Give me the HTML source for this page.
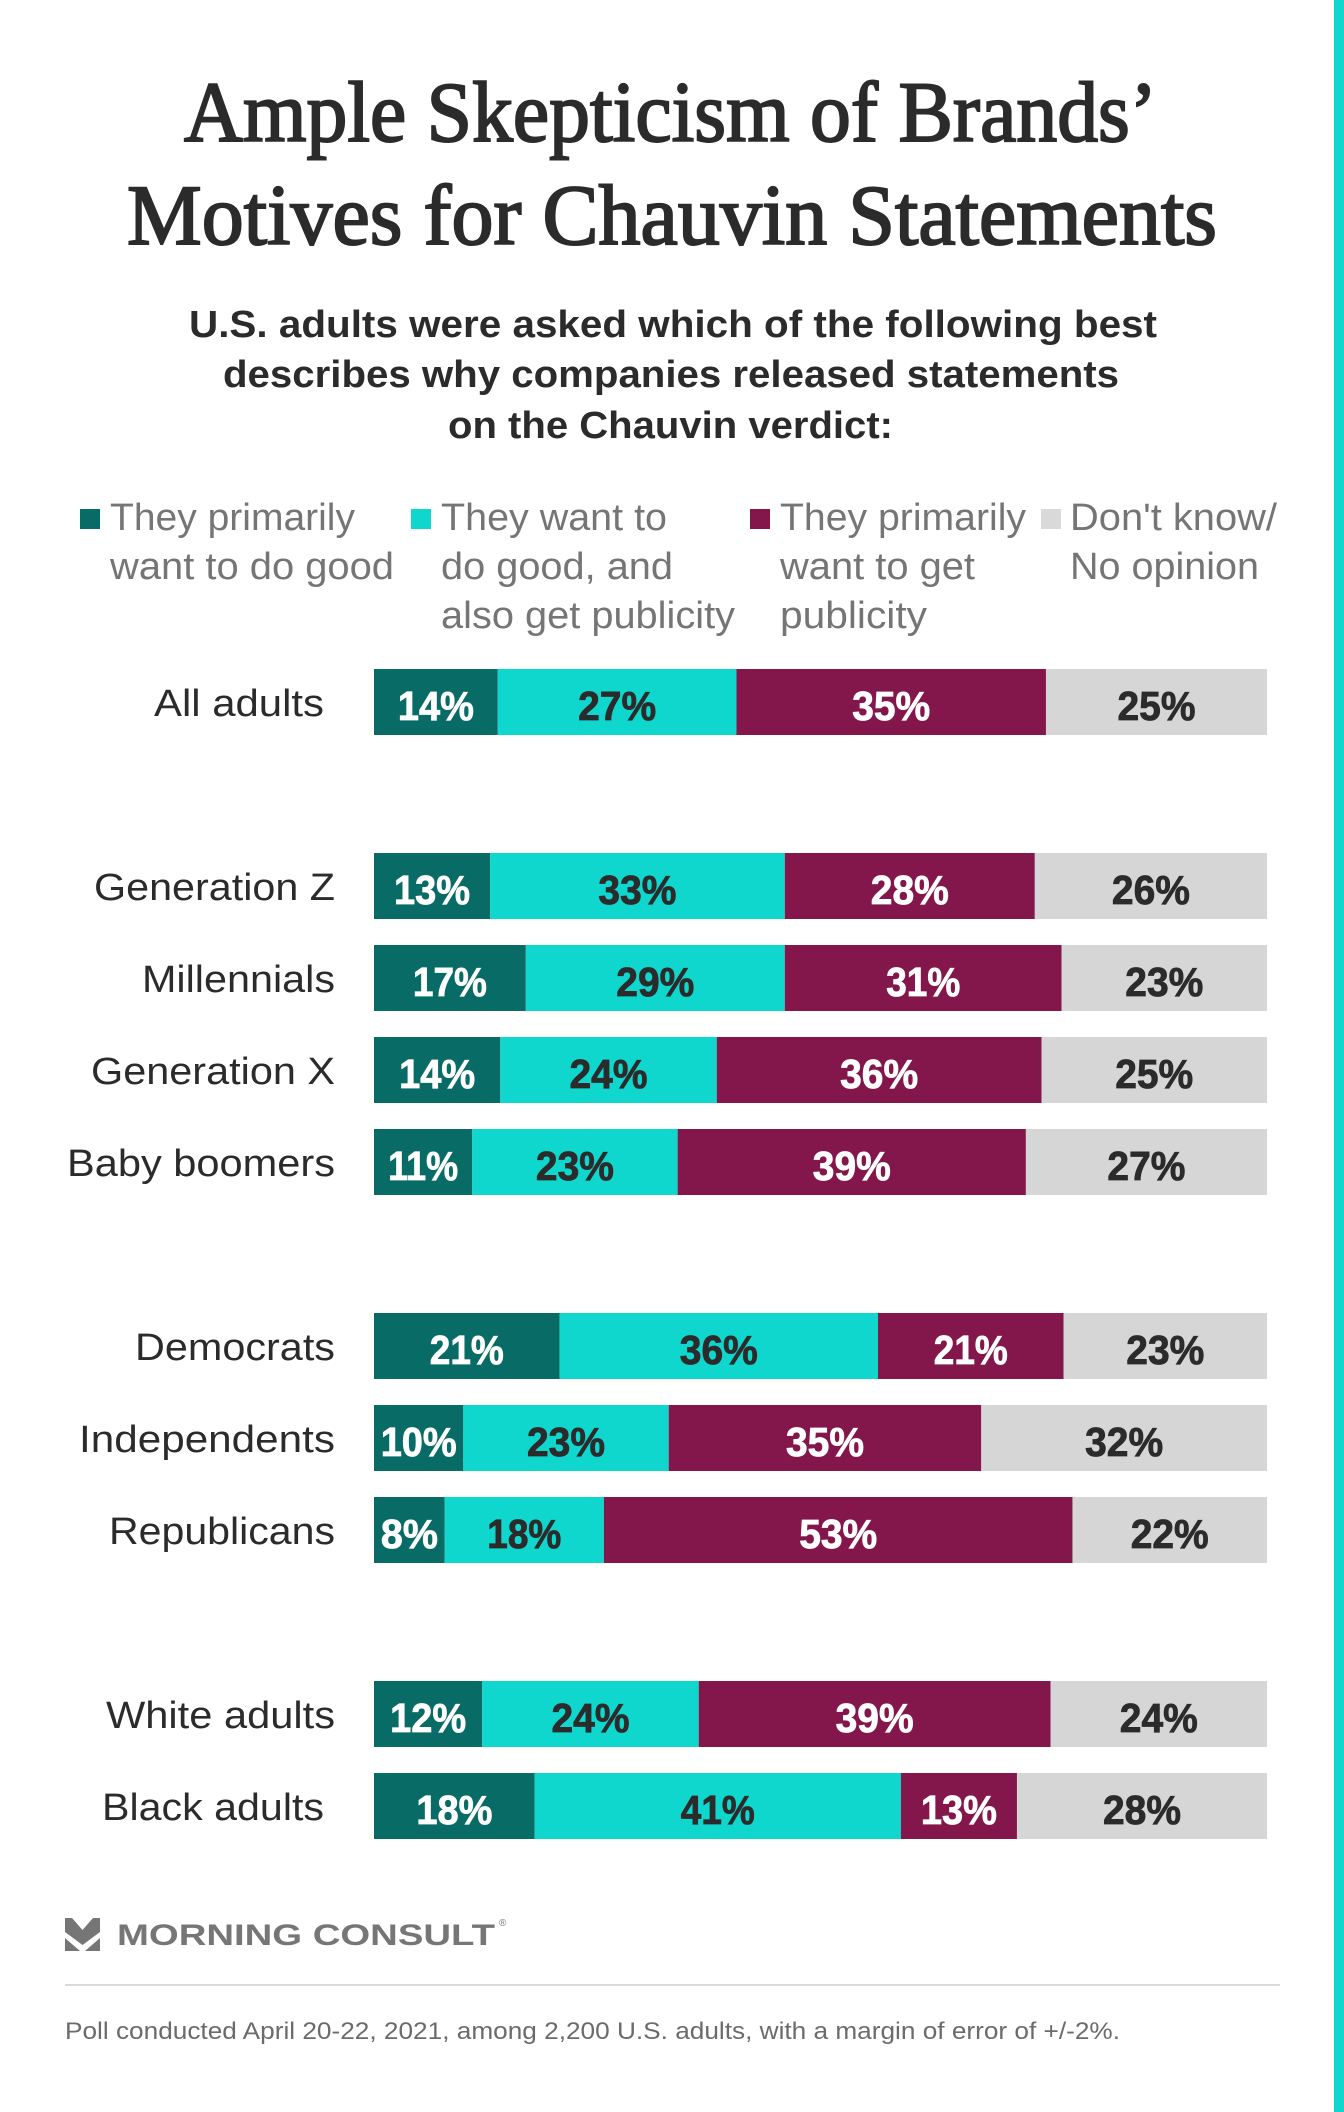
<!DOCTYPE html>
<html>
<head>
<meta charset="utf-8">
<style>
  html, body { margin:0; padding:0; background:#ffffff; }
  body { width:1344px; height:2112px; overflow:hidden; }
  svg { display:block; }
  .ttl { font-family:"Liberation Serif", serif; font-size:86px; fill:#2b2b2b; stroke:#2b2b2b; stroke-width:2px; }
  .sub { font-family:"Liberation Sans", sans-serif; font-size:38px; font-weight:bold; fill:#2b2b2b; }
  .leg { font-family:"Liberation Sans", sans-serif; font-size:38px; fill:#757575; }
  .row { font-family:"Liberation Sans", sans-serif; font-size:38px; fill:#2b2b2b; }
  .pw { font-family:"Liberation Sans", sans-serif; font-size:41px; font-weight:bold; fill:#ffffff; stroke:#ffffff; stroke-width:0.8px; }
  .pd { font-family:"Liberation Sans", sans-serif; font-size:41px; font-weight:bold; fill:#2b2b2b; stroke:#2b2b2b; stroke-width:0.8px; }
  .foot { font-family:"Liberation Sans", sans-serif; font-size:24px; fill:#6b6b6b; }
  .logo { font-family:"Liberation Sans", sans-serif; font-size:30px; font-weight:bold; fill:#767676; }
</style>
</head>
<body>
<svg width="1344" height="2112" viewBox="0 0 1344 2112" xmlns="http://www.w3.org/2000/svg">
  <rect x="0" y="0" width="1344" height="2112" fill="#ffffff"/>
  <rect x="1334" y="0" width="10" height="2112" fill="#10d7cd"/>

  <!-- Title -->
  <text class="ttl" x="184" y="141" textLength="973" lengthAdjust="spacingAndGlyphs">Ample Skepticism of Brands’</text>
  <text class="ttl" x="127" y="244" textLength="1090" lengthAdjust="spacingAndGlyphs">Motives for Chauvin Statements</text>

  <!-- Subtitle -->
  <text class="sub" x="189" y="337" textLength="968" lengthAdjust="spacingAndGlyphs">U.S. adults were asked which of the following best</text>
  <text class="sub" x="223" y="387" textLength="896" lengthAdjust="spacingAndGlyphs">describes why companies released statements</text>
  <text class="sub" x="448" y="438" textLength="445" lengthAdjust="spacingAndGlyphs">on the Chauvin verdict:</text>

  <!-- Legend -->
  <rect x="80" y="509" width="20" height="20" fill="#086b66"/>
  <text class="leg" x="110" y="530" textLength="245" lengthAdjust="spacingAndGlyphs">They primarily</text>
  <text class="leg" x="110" y="579" textLength="284" lengthAdjust="spacingAndGlyphs">want to do good</text>

  <rect x="411" y="509" width="20" height="20" fill="#10d7cd"/>
  <text class="leg" x="441" y="530" textLength="226" lengthAdjust="spacingAndGlyphs">They want to</text>
  <text class="leg" x="441" y="579" textLength="232" lengthAdjust="spacingAndGlyphs">do good, and</text>
  <text class="leg" x="441" y="628" textLength="294" lengthAdjust="spacingAndGlyphs">also get publicity</text>

  <rect x="750" y="509" width="20" height="20" fill="#83174b"/>
  <text class="leg" x="780" y="530" textLength="246" lengthAdjust="spacingAndGlyphs">They primarily</text>
  <text class="leg" x="780" y="579" textLength="195" lengthAdjust="spacingAndGlyphs">want to get</text>
  <text class="leg" x="780" y="628" textLength="147" lengthAdjust="spacingAndGlyphs">publicity</text>

  <rect x="1041" y="509" width="20" height="20" fill="#d9d9d9"/>
  <text class="leg" x="1070" y="530" textLength="207" lengthAdjust="spacingAndGlyphs">Don't know/</text>
  <text class="leg" x="1070" y="579" textLength="189" lengthAdjust="spacingAndGlyphs">No opinion</text>

  <!-- Row: All adults (top 669) -->
  <text class="row" x="324" y="716" text-anchor="end" textLength="170" lengthAdjust="spacingAndGlyphs">All adults</text>
  <rect x="374" y="669" width="123.78" height="66" fill="#086b66"/>
  <rect x="497.78" y="669" width="238.72" height="66" fill="#10d7cd"/>
  <rect x="736.5" y="669" width="309.46" height="66" fill="#83174b"/>
  <rect x="1045.96" y="669" width="221.04" height="66" fill="#d6d6d6"/>
  <text class="pw" x="435.9" y="720" text-anchor="middle" textLength="76" lengthAdjust="spacingAndGlyphs">14%</text>
  <text class="pd" x="617.1" y="720" text-anchor="middle" textLength="78" lengthAdjust="spacingAndGlyphs">27%</text>
  <text class="pw" x="891.2" y="720" text-anchor="middle" textLength="78" lengthAdjust="spacingAndGlyphs">35%</text>
  <text class="pd" x="1156.5" y="720" text-anchor="middle" textLength="78" lengthAdjust="spacingAndGlyphs">25%</text>

  <!-- Generation Z (853) -->
  <text class="row" x="335" y="900" text-anchor="end" textLength="241" lengthAdjust="spacingAndGlyphs">Generation Z</text>
  <rect x="374" y="853" width="116.09" height="66" fill="#086b66"/>
  <rect x="490.09" y="853" width="294.69" height="66" fill="#10d7cd"/>
  <rect x="784.78" y="853" width="250.04" height="66" fill="#83174b"/>
  <rect x="1034.82" y="853" width="232.18" height="66" fill="#d6d6d6"/>
  <text class="pw" x="432" y="904" text-anchor="middle" textLength="76" lengthAdjust="spacingAndGlyphs">13%</text>
  <text class="pd" x="637.4" y="904" text-anchor="middle" textLength="78" lengthAdjust="spacingAndGlyphs">33%</text>
  <text class="pw" x="909.8" y="904" text-anchor="middle" textLength="78" lengthAdjust="spacingAndGlyphs">28%</text>
  <text class="pd" x="1150.9" y="904" text-anchor="middle" textLength="78" lengthAdjust="spacingAndGlyphs">26%</text>

  <!-- Millennials (945) -->
  <text class="row" x="335" y="992" text-anchor="end" textLength="193" lengthAdjust="spacingAndGlyphs">Millennials</text>
  <rect x="374" y="945" width="151.81" height="66" fill="#086b66"/>
  <rect x="525.81" y="945" width="258.97" height="66" fill="#10d7cd"/>
  <rect x="784.78" y="945" width="276.83" height="66" fill="#83174b"/>
  <rect x="1061.61" y="945" width="205.39" height="66" fill="#d6d6d6"/>
  <text class="pw" x="449.9" y="996" text-anchor="middle" textLength="74" lengthAdjust="spacingAndGlyphs">17%</text>
  <text class="pd" x="655.3" y="996" text-anchor="middle" textLength="78" lengthAdjust="spacingAndGlyphs">29%</text>
  <text class="pw" x="923.2" y="996" text-anchor="middle" textLength="74" lengthAdjust="spacingAndGlyphs">31%</text>
  <text class="pd" x="1164.3" y="996" text-anchor="middle" textLength="78" lengthAdjust="spacingAndGlyphs">23%</text>

  <!-- Generation X (1037) -->
  <text class="row" x="335" y="1084" text-anchor="end" textLength="244" lengthAdjust="spacingAndGlyphs">Generation X</text>
  <rect x="374" y="1037" width="126.28" height="66" fill="#086b66"/>
  <rect x="500.28" y="1037" width="216.48" height="66" fill="#10d7cd"/>
  <rect x="716.76" y="1037" width="324.73" height="66" fill="#83174b"/>
  <rect x="1041.49" y="1037" width="225.51" height="66" fill="#d6d6d6"/>
  <text class="pw" x="437.1" y="1088" text-anchor="middle" textLength="76" lengthAdjust="spacingAndGlyphs">14%</text>
  <text class="pd" x="608.5" y="1088" text-anchor="middle" textLength="78" lengthAdjust="spacingAndGlyphs">24%</text>
  <text class="pw" x="879.1" y="1088" text-anchor="middle" textLength="78" lengthAdjust="spacingAndGlyphs">36%</text>
  <text class="pd" x="1154.2" y="1088" text-anchor="middle" textLength="78" lengthAdjust="spacingAndGlyphs">25%</text>

  <!-- Baby boomers (1129) -->
  <text class="row" x="335" y="1176" text-anchor="end" textLength="268" lengthAdjust="spacingAndGlyphs">Baby boomers</text>
  <rect x="374" y="1129" width="98.23" height="66" fill="#086b66"/>
  <rect x="472.23" y="1129" width="205.39" height="66" fill="#10d7cd"/>
  <rect x="677.62" y="1129" width="348.27" height="66" fill="#83174b"/>
  <rect x="1025.89" y="1129" width="241.11" height="66" fill="#d6d6d6"/>
  <text class="pw" x="423.1" y="1180" text-anchor="middle" textLength="70" lengthAdjust="spacingAndGlyphs">11%</text>
  <text class="pd" x="574.9" y="1180" text-anchor="middle" textLength="78" lengthAdjust="spacingAndGlyphs">23%</text>
  <text class="pw" x="851.8" y="1180" text-anchor="middle" textLength="78" lengthAdjust="spacingAndGlyphs">39%</text>
  <text class="pd" x="1146.4" y="1180" text-anchor="middle" textLength="78" lengthAdjust="spacingAndGlyphs">27%</text>

  <!-- Democrats (1313) -->
  <text class="row" x="335" y="1360" text-anchor="end" textLength="200" lengthAdjust="spacingAndGlyphs">Democrats</text>
  <rect x="374" y="1313" width="185.67" height="66" fill="#086b66"/>
  <rect x="559.67" y="1313" width="318.3" height="66" fill="#10d7cd"/>
  <rect x="877.97" y="1313" width="185.67" height="66" fill="#83174b"/>
  <rect x="1063.64" y="1313" width="203.36" height="66" fill="#d6d6d6"/>
  <text class="pw" x="466.8" y="1364" text-anchor="middle" textLength="74" lengthAdjust="spacingAndGlyphs">21%</text>
  <text class="pd" x="718.8" y="1364" text-anchor="middle" textLength="78" lengthAdjust="spacingAndGlyphs">36%</text>
  <text class="pw" x="970.8" y="1364" text-anchor="middle" textLength="74" lengthAdjust="spacingAndGlyphs">21%</text>
  <text class="pd" x="1165.3" y="1364" text-anchor="middle" textLength="78" lengthAdjust="spacingAndGlyphs">23%</text>

  <!-- Independents (1405) -->
  <text class="row" x="335" y="1452" text-anchor="end" textLength="256" lengthAdjust="spacingAndGlyphs">Independents</text>
  <rect x="374" y="1405" width="89.3" height="66" fill="#086b66"/>
  <rect x="463.3" y="1405" width="205.39" height="66" fill="#10d7cd"/>
  <rect x="668.69" y="1405" width="312.55" height="66" fill="#83174b"/>
  <rect x="981.24" y="1405" width="285.76" height="66" fill="#d6d6d6"/>
  <text class="pw" x="418.7" y="1456" text-anchor="middle" textLength="76" lengthAdjust="spacingAndGlyphs">10%</text>
  <text class="pd" x="566" y="1456" text-anchor="middle" textLength="78" lengthAdjust="spacingAndGlyphs">23%</text>
  <text class="pw" x="825" y="1456" text-anchor="middle" textLength="78" lengthAdjust="spacingAndGlyphs">35%</text>
  <text class="pd" x="1124.1" y="1456" text-anchor="middle" textLength="78" lengthAdjust="spacingAndGlyphs">32%</text>

  <!-- Republicans (1497) -->
  <text class="row" x="335" y="1544" text-anchor="end" textLength="226" lengthAdjust="spacingAndGlyphs">Republicans</text>
  <rect x="374" y="1497" width="70.73" height="66" fill="#086b66"/>
  <rect x="444.73" y="1497" width="159.15" height="66" fill="#10d7cd"/>
  <rect x="603.88" y="1497" width="468.6" height="66" fill="#83174b"/>
  <rect x="1072.48" y="1497" width="194.52" height="66" fill="#d6d6d6"/>
  <text class="pw" x="409.4" y="1548" text-anchor="middle" textLength="57" lengthAdjust="spacingAndGlyphs">8%</text>
  <text class="pd" x="524.3" y="1548" text-anchor="middle" textLength="74" lengthAdjust="spacingAndGlyphs">18%</text>
  <text class="pw" x="838.2" y="1548" text-anchor="middle" textLength="78" lengthAdjust="spacingAndGlyphs">53%</text>
  <text class="pd" x="1169.7" y="1548" text-anchor="middle" textLength="78" lengthAdjust="spacingAndGlyphs">22%</text>

  <!-- White adults (1681) -->
  <text class="row" x="335" y="1728" text-anchor="end" textLength="229" lengthAdjust="spacingAndGlyphs">White adults</text>
  <rect x="374" y="1681" width="108.24" height="66" fill="#086b66"/>
  <rect x="482.24" y="1681" width="216.48" height="66" fill="#10d7cd"/>
  <rect x="698.72" y="1681" width="351.79" height="66" fill="#83174b"/>
  <rect x="1050.51" y="1681" width="216.49" height="66" fill="#d6d6d6"/>
  <text class="pw" x="428.1" y="1732" text-anchor="middle" textLength="76" lengthAdjust="spacingAndGlyphs">12%</text>
  <text class="pd" x="590.5" y="1732" text-anchor="middle" textLength="78" lengthAdjust="spacingAndGlyphs">24%</text>
  <text class="pw" x="874.6" y="1732" text-anchor="middle" textLength="78" lengthAdjust="spacingAndGlyphs">39%</text>
  <text class="pd" x="1158.8" y="1732" text-anchor="middle" textLength="78" lengthAdjust="spacingAndGlyphs">24%</text>

  <!-- Black adults (1773) -->
  <text class="row" x="324" y="1820" text-anchor="end" textLength="222" lengthAdjust="spacingAndGlyphs">Black adults</text>
  <rect x="374" y="1773" width="160.74" height="66" fill="#086b66"/>
  <rect x="534.74" y="1773" width="366.13" height="66" fill="#10d7cd"/>
  <rect x="900.87" y="1773" width="116.09" height="66" fill="#83174b"/>
  <rect x="1016.96" y="1773" width="250.04" height="66" fill="#d6d6d6"/>
  <text class="pw" x="454.4" y="1824" text-anchor="middle" textLength="76" lengthAdjust="spacingAndGlyphs">18%</text>
  <text class="pd" x="717.8" y="1824" text-anchor="middle" textLength="74" lengthAdjust="spacingAndGlyphs">41%</text>
  <text class="pw" x="958.9" y="1824" text-anchor="middle" textLength="76" lengthAdjust="spacingAndGlyphs">13%</text>
  <text class="pd" x="1142" y="1824" text-anchor="middle" textLength="78" lengthAdjust="spacingAndGlyphs">28%</text>

  <!-- Footer logo -->
  <polygon points="65,1918 72,1918 82.5,1930 93,1918 100,1918 100,1932 82.5,1945 65,1932" fill="#767676"/>
  <polygon points="65,1938 80,1951 65,1951" fill="#767676"/>
  <polygon points="100,1938 85,1951 100,1951" fill="#767676"/>
  <text class="logo" x="117" y="1945" textLength="378" lengthAdjust="spacingAndGlyphs">MORNING CONSULT</text>
  <text x="499" y="1926" font-family="Liberation Sans, sans-serif" font-size="10" fill="#767676">®</text>

  <rect x="65" y="1984" width="1215" height="2" fill="#dadada"/>

  <text class="foot" x="65" y="2039" textLength="1055" lengthAdjust="spacingAndGlyphs">Poll conducted April 20-22, 2021, among 2,200 U.S. adults, with a margin of error of +/-2%.</text>
</svg>
</body>
</html>
